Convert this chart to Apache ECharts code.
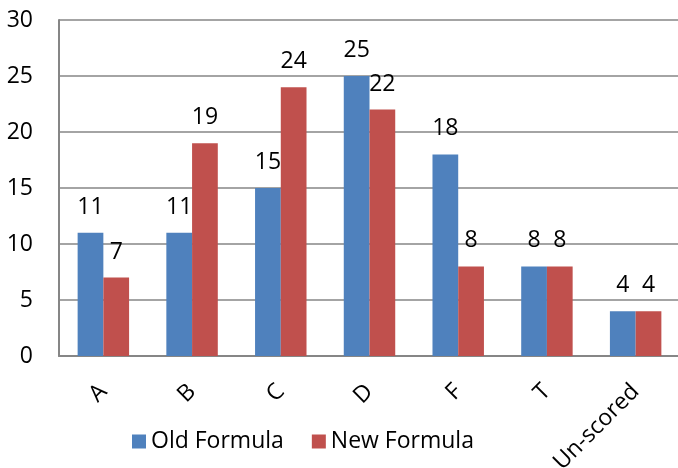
<!DOCTYPE html>
<html>
<head>
<meta charset="utf-8">
<script src="https://cdn.jsdelivr.net/npm/echarts@6/dist/echarts.min.js"></script>
<style>
  html, body { margin: 0; padding: 0; background: #fff; }
  #chart { width: 678px; height: 468px; }
</style>
</head>
<body>
<div id="chart"></div>
<script>
// categories and values
const categories = ["A", "B", "C", "D", "F", "T", "Un-scored"];
const oldFormula = [11, 11, 15, 25, 18, 8, 4];
const newFormula = [7, 19, 24, 22, 8, 8, 4];
const seriesNames = ["Old Formula", "New Formula"];

const FONT = "Open Sans";
const SIZE = 23;

const chart = echarts.init(document.getElementById("chart"));

// label on top of each bar
function barLabel() {
  return {
    show: true,
    position: "top",
    distance: 14,
    color: "#000",
    fontFamily: FONT,
    fontSize: SIZE
  };
}

const option = {
  animation: false,
  backgroundColor: "#fff",
  grid: { left: 59, top: 20, width: 621, height: 336, outerBoundsMode: "none" },
  legend: {
    left: 132,
    top: 430,
    padding: 0,
    itemWidth: 14,
    itemHeight: 14,
    itemGap: 28,
    icon: "rect",
    textStyle: { color: "#000", fontFamily: FONT, fontSize: SIZE },
    data: seriesNames
  },
  xAxis: {
    type: "category",
    data: categories,
    axisLine: { lineStyle: { color: "#868686", width: 2 } },
    axisTick: { show: false },
    axisLabel: {
      rotate: 45,
      margin: 32,
      color: "#000",
      fontFamily: FONT,
      fontSize: SIZE
    }
  },
  yAxis: {
    type: "value",
    min: 0,
    max: 30,
    interval: 5,
    axisLine: { show: true, lineStyle: { color: "#868686", width: 2 } },
    axisTick: { show: false },
    splitLine: { lineStyle: { color: "#868686", width: 1.5 } },
    axisLabel: {
      margin: 26,
      color: "#000",
      fontFamily: FONT,
      fontSize: SIZE
    }
  },
  series: [
    {
      name: seriesNames[0],
      type: "bar",
      data: oldFormula,
      barGap: "0%",
      barCategoryGap: "42%",
      itemStyle: { color: "#4F81BD" },
      label: barLabel()
    },
    {
      name: seriesNames[1],
      type: "bar",
      data: newFormula,
      barGap: "0%",
      barCategoryGap: "42%",
      itemStyle: { color: "#C0504D" },
      label: barLabel()
    }
  ]
};

chart.setOption(option);
</script>
</body>
</html>
